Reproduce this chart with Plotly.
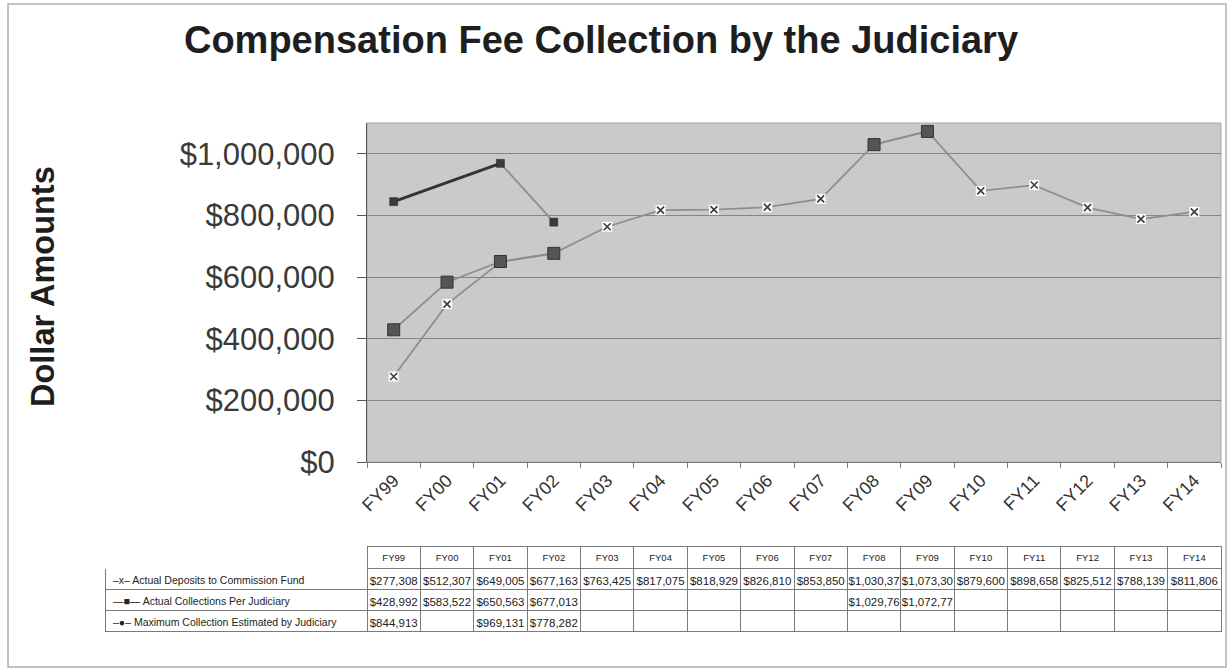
import plotly.graph_objects as go

W, H = 1228, 671

years = ["FY99", "FY00", "FY01", "FY02", "FY03", "FY04", "FY05", "FY06",
         "FY07", "FY08", "FY09", "FY10", "FY11", "FY12", "FY13", "FY14"]

deposits = [277308, 512307, 649005, 677163, 763425, 817075, 818929, 826810,
            853850, 1030370, 1073300, 879600, 898658, 825512, 788139, 811806]

collections = [428992, 583522, 650563, 677013, None, None, None, None,
               None, 1029760, 1072770, None, None, None, None, None]

max_est = [844913, None, 969131, 778282, None, None, None, None,
           None, None, None, None, None, None, None, None]

series_names = ["Actual Deposits to Commission Fund",
                "Actual Collections Per Judiciary",
                "Maximum Collection Estimated by Judiciary"]
legend_keys = ["\u2013x\u2013 ", "\u2014\u25A0\u2014 ", "\u2013\u25CF\u2013 "]

title_text = "Compensation Fee Collection by the Judiciary"
y_title = "Dollar Amounts"

FONT = "Liberation Sans, Arial, sans-serif"

# pixel helpers -> paper coords (margins are zero)
def px(x):
    return x / W

def py(y):
    return 1 - y / H

plot_l, plot_r, plot_t, plot_b = 367, 1221, 123, 462

fig = go.Figure()

LINE_GRAY = "#8e8e8e"
DARK = "#3c3c3c"

# Actual deposits: gray line, white box with x marker
fig.add_trace(go.Scatter(
    x=years, y=deposits, mode="lines+markers",
    line=dict(color=LINE_GRAY, width=1.8),
    marker=dict(symbol="square", size=10, color="white", line=dict(width=0)),
    showlegend=False, hoverinfo="skip"))
fig.add_trace(go.Scatter(
    x=years, y=deposits, mode="markers",
    marker=dict(symbol="x-thin", size=7, line=dict(width=1.6, color=DARK)),
    showlegend=False, name=series_names[0]))

# Actual collections: gray line, big dark squares
fig.add_trace(go.Scatter(
    x=years, y=collections, mode="lines+markers", connectgaps=False,
    line=dict(color=LINE_GRAY, width=1.8),
    marker=dict(symbol="square", size=12, color="#555555",
                line=dict(width=1, color="#333333")),
    showlegend=False, name=series_names[1]))

# Maximum estimate: dark thick bridge over gap, thin gray segment, small squares
bridge_idx = [i for i, v in enumerate(max_est) if v is not None][:2]
fig.add_trace(go.Scatter(
    x=[years[i] for i in bridge_idx], y=[max_est[i] for i in bridge_idx],
    mode="lines", line=dict(color="#333333", width=3),
    showlegend=False, hoverinfo="skip"))
fig.add_trace(go.Scatter(
    x=years, y=max_est, mode="lines+markers", connectgaps=False,
    line=dict(color=LINE_GRAY, width=1.8),
    marker=dict(symbol="square", size=8, color="#3a3a3a",
                line=dict(width=0.5, color="#222222")),
    showlegend=False, name=series_names[2]))

# Data table (cell text clipped to 9 characters as in the original sheet)
def fmt(v):
    return "" if v is None else "${:,}".format(v)[:9]

label_col = [legend_keys[i] + series_names[i] for i in range(3)]
cols = [label_col]
for i in range(len(years)):
    cols.append([fmt(deposits[i]), fmt(collections[i]), fmt(max_est[i])])

col_w = (plot_r - plot_l) / len(years)
fig.add_trace(go.Table(
    domain=dict(x=[px(105), px(plot_r)], y=[py(633), py(546)]),
    columnwidth=[plot_l - 105] + [col_w] * len(years),
    header=dict(values=[""] + years,
                fill_color="white",
                line=dict(color=["white"] + ["#7a7a7a"] * len(years), width=1),
                font=dict(family=FONT, size=9.5, color="#222222"),
                align="center", height=22),
    cells=dict(values=cols,
               fill_color="white",
               line=dict(color="#7a7a7a", width=1),
               font=dict(family=FONT, size=[10.5] + [11.5] * len(years),
                         color="#222222"),
               align=["left"] + ["center"] * len(years), height=21),
))

fig.update_layout(
    width=W, height=H,
    margin=dict(l=0, r=0, t=0, b=0),
    paper_bgcolor="white",
    plot_bgcolor="#cacaca",
    font=dict(family=FONT, color="#333333"),
    title=dict(text="<b>" + title_text + "</b>", x=px(601), xanchor="center",
               y=py(40), yanchor="middle", yref="container",
               font=dict(family=FONT, size=38, color="#1e1e1e")),
    xaxis=dict(domain=[px(plot_l), px(plot_r)], type="category",
               categoryorder="array", categoryarray=years,
               range=[-0.5, len(years) - 0.5],
               showgrid=False, showline=True, linecolor="#7a7a7a", linewidth=1,
               ticks="outside", tickson="boundaries", ticklen=5, tickcolor="#7a7a7a",
               tickangle=-45, tickfont=dict(family=FONT, size=18, color="#333333"),
               automargin=False, fixedrange=True),
    yaxis=dict(domain=[py(plot_b), py(plot_t)], range=[0, 1100000],
               tick0=0, dtick=200000, tickprefix="$", tickformat=",",
               showgrid=True, gridcolor="#858585", gridwidth=1,
               showline=True, linecolor="#555555", linewidth=1,
               ticks="outside", ticklen=9, tickcolor="#555555",
               ticklabelstandoff=16,
               zeroline=False,
               tickfont=dict(family=FONT, size=31, color="#3a3a3a"),
               automargin=False, fixedrange=True),
    annotations=[dict(text="<b>" + y_title + "</b>", textangle=-90,
                      xref="paper", yref="paper", x=px(43), y=py(287),
                      showarrow=False, xanchor="center", yanchor="middle",
                      font=dict(family=FONT, size=32.5, color="#1e1e1e"))],
    shapes=[
        dict(type="rect", xref="x domain", yref="y domain", x0=0, x1=1, y0=0, y1=1,
             line=dict(color="#a8a8a8", width=1), layer="below"),
        dict(type="rect", xref="paper", yref="paper",
             x0=px(8), x1=px(1226), y0=py(667), y1=py(4),
             line=dict(color="#b0b0b0", width=1.5)),
    ],
)

fig.write_html("out.html",
               config={"displayModeBar": False},
               post_script="document.body.style.margin='0px';document.body.style.padding='0px';")
